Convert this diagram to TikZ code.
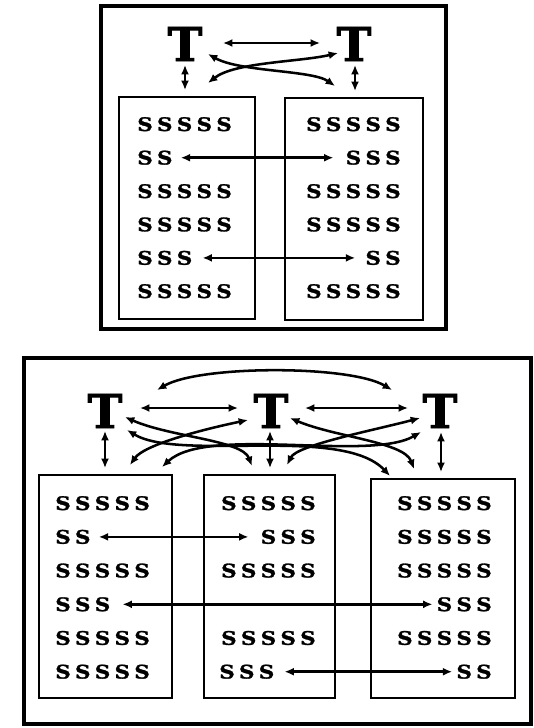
\documentclass[tikz,border=0pt]{standalone}
\usepackage{fontspec}
\usetikzlibrary{arrows.meta,fit}
\newfontfamily\glyphfont[FakeStretch=1.15,FakeBold=1.5]{DejaVu Serif}
\newfontfamily\teefont[FakeBold=2]{DejaVu Serif}
% gap between the letters of a row
\newcommand{\gp}{\kern3.2pt}
\newcommand{\sFive}{S\gp S\gp S\gp S\gp S}
\newcommand{\sThree}{S\gp S\gp S}
\newcommand{\sTwo}{S\gp S}

\begin{document}
\begin{tikzpicture}[x=0.75pt,y=-0.75pt,
  frame/.style={draw, line width=2.3pt, inner sep=0pt},
  panel/.style={draw, line width=1pt, inner sep=0pt},
  tee/.style={font=\teefont\bfseries\fontsize{35}{35}\selectfont, inner sep=0pt, anchor=base},
  rowl/.style={font=\glyphfont\bfseries\fontsize{14}{14}\selectfont, inner sep=0pt, anchor=base west},
  rowr/.style={font=\glyphfont\bfseries\fontsize{14}{14}\selectfont, inner sep=0pt, anchor=base east},
  link/.style={line width=1.9pt, {Latex[length=7pt,width=6pt]}-{Latex[length=7pt,width=6pt]}}
]
\useasboundingbox (0,0) rectangle (533,728);

% ---------- upper system: two sites ----------
\node[frame, fit={(101,6) (446,329)}] (upper) {};
\node[panel, fit={(119,97) (255,319)}] (ua) {};
\node[panel, fit={(285,98) (423,320)}] (ub) {};
\node[tee] (ut1) at (185,61) {T};
\node[tee] (ut2) at (354,61) {T};

\node[rowl] (ua1) at (137,131) {\sFive};
\node[rowl] (ua2) at (137,164.5) {\sTwo};
\node[rowl] (ua3) at (137,198) {\sFive};
\node[rowl] (ua4) at (137,231.3) {\sFive};
\node[rowl] (ua5) at (137,264.7) {\sThree};
\node[rowl] (ua6) at (137,298) {\sFive};
\node[rowr] (ub1) at (401,131) {\sFive};
\node[rowr] (ub2) at (401,164.5) {\sThree};
\node[rowr] (ub3) at (401,198) {\sFive};
\node[rowr] (ub4) at (401,231.3) {\sFive};
\node[rowr] (ub5) at (401,264.7) {\sTwo};
\node[rowr] (ub6) at (401,298) {\sFive};

\coordinate (ut1v) at (185,65);  \coordinate (uav) at (185,90);
\coordinate (ut2v) at (355,65);  \coordinate (ubv) at (355,91);
\coordinate (ut1h) at (223,43);  \coordinate (ut2h) at (320,43);
\coordinate (ut1a) at (208,54);  \coordinate (ubx) at (335,86);
\coordinate (uax) at (208,83);   \coordinate (ut2b) at (338,53);

\draw[link] (ut1v) -- (uav);
\draw[link] (ut2v) -- (ubv);
\draw[link] (ut1h) -- (ut2h);
\draw[link] (ut1a) .. controls (240,72) and (312,70) .. (ubx);
\draw[link] (uax) .. controls (235,62) and (300,62) .. (ut2b);
\draw[link] ([xshift=6pt]ua2.east) -- ([xshift=-9pt]ub2.west);
\draw[link] ([xshift=7.5pt]ua5.east) -- ([xshift=-7.5pt]ub5.west);

% ---------- lower system: three sites ----------
\node[frame, fit={(24,358) (531,724)}] (lower) {};
\node[panel, fit={(39,475) (172,698)}] (la) {};
\node[panel, fit={(204,475) (335,698)}] (lb) {};
\node[panel, fit={(371,479) (515,698)}] (lc) {};
\node[tee] (lt1) at (105,428) {T};
\node[tee] (lt2) at (271,428) {T};
\node[tee] (lt3) at (440,428) {T};

\node[rowl] (la1) at (55,510) {\sFive};
\node[rowl] (la2) at (55,543.7) {\sTwo};
\node[rowl] (la3) at (55,577.4) {\sFive};
\node[rowl] (la4) at (55,611.1) {\sThree};
\node[rowl] (la5) at (55,644.8) {\sFive};
\node[rowl] (la6) at (55,678.5) {\sFive};

\node[rowr] (lb1) at (316,510) {\sFive};
\node[rowr] (lb2) at (316,543.7) {\sThree};
\node[rowr] (lb3) at (316,577.4) {\sFive};
\node[rowr] (lb5) at (316,644.8) {\sFive};
\node[rowl] (lb6) at (219,678.5) {\sThree};

\node[rowr] (lc1) at (492,510) {\sFive};
\node[rowr] (lc2) at (492,543.7) {\sFive};
\node[rowr] (lc3) at (492,577.4) {\sFive};
\node[rowr] (lc4) at (492,611.1) {\sThree};
\node[rowr] (lc5) at (492,644.8) {\sFive};
\node[rowr] (lc6) at (492,678.5) {\sTwo};

% end points of the links between sites
\coordinate (lt1v) at (105,431); \coordinate (lav) at (105,468);
\coordinate (lt2v) at (270,431); \coordinate (lbv) at (270,468);
\coordinate (lt3v) at (441,432); \coordinate (lcv) at (441,472);
\coordinate (lt1r) at (140,408); \coordinate (lt2l) at (238,408);
\coordinate (lt2r) at (305,408); \coordinate (lt3l) at (408,408);
\coordinate (lt1o) at (157,390); \coordinate (lt3o) at (392,390);
\coordinate (lt1a) at (125,417); \coordinate (lt1b) at (127,430);
\coordinate (lt2a) at (248,420); \coordinate (lt2b) at (290,418);
\coordinate (lt3a) at (420,418); \coordinate (lt3b) at (421,432);
\coordinate (lax) at (130,465);  \coordinate (lay) at (162,467);
\coordinate (lbx) at (252,466);  \coordinate (lby) at (287,465);
\coordinate (lcx) at (390,476);  \coordinate (lcy) at (414,469);

\draw[link] (lt1v) -- (lav);
\draw[link] (lt2v) -- (lbv);
\draw[link] (lt3v) -- (lcv);
\draw[link] (lt1r) -- (lt2l);
\draw[link] (lt2r) -- (lt3l);
\draw[link] (lt1o) .. controls (200,365) and (350,365) .. (lt3o);
\draw[link] (lt1a) .. controls (170,437) and (242,440) .. (lbx);
\draw[link] (lt2a) .. controls (200,430) and (144,445) .. (lax);
\draw[link] (lt2b) .. controls (335,437) and (404,442) .. (lcy);
\draw[link] (lt3a) .. controls (375,430) and (297,445) .. (lby);
\draw[link] (lt1b) .. controls (180,462) and (342,425) .. (lcx);
\draw[link] (lt3b) .. controls (369,462) and (207,425) .. (lay);

\draw[link] ([xshift=6pt]la2.east) -- ([xshift=-9pt]lb2.west);
\draw[link] ([xshift=9pt]la4.east) -- ([xshift=-3pt]lc4.west);
\draw[link] ([xshift=7.5pt]lb6.east) -- ([xshift=-3pt]lc6.west);
\end{tikzpicture}
\end{document}
